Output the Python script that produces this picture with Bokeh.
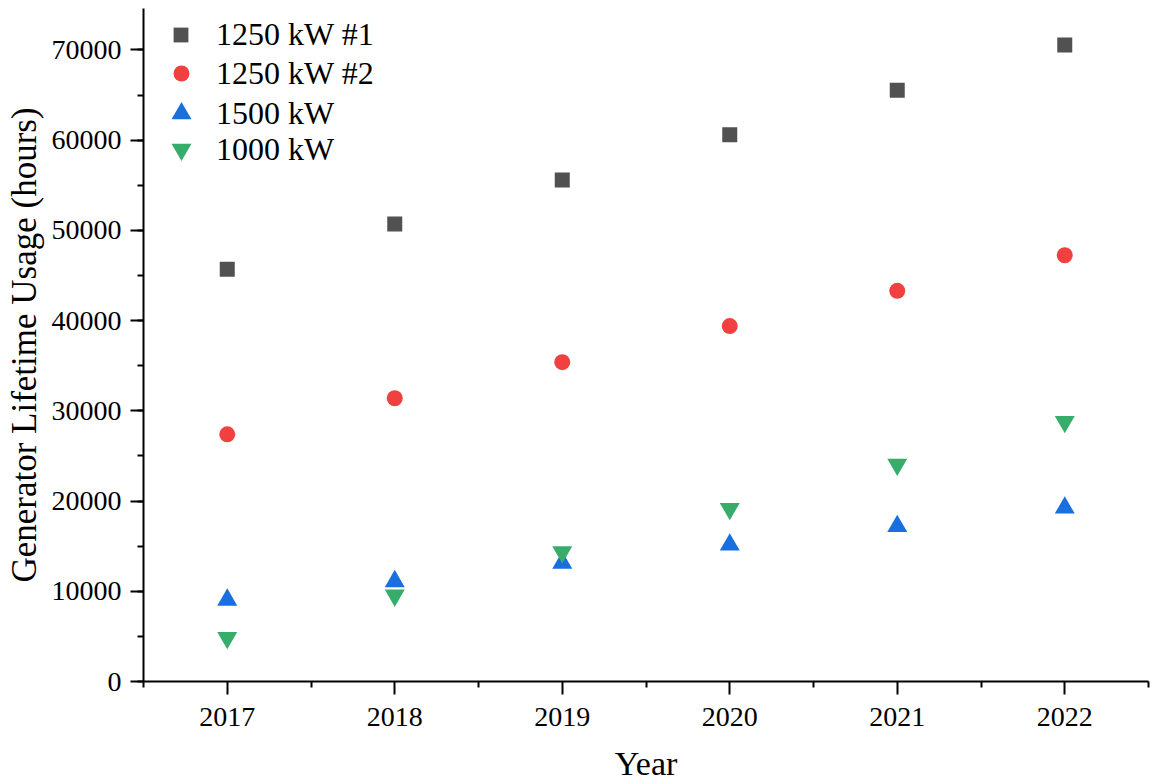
from bokeh.plotting import figure
from bokeh.models import FixedTicker, Legend, LegendItem, Range1d
from bokeh.embed import file_html
from bokeh.resources import INLINE

years = [2017, 2018, 2019, 2020, 2021, 2022]
gen_1250_1 = [45700, 50700, 55600, 60600, 65550, 70550]
gen_1250_2 = [27400, 31400, 35400, 39400, 43300, 47250]
gen_1500 = [9050, 11100, 13150, 15150, 17200, 19250]
gen_1000 = [4850, 9550, 14350, 19150, 24050, 28800]

series = [
    ("1250 kW #1", gen_1250_1, "square", "#515151", 15),
    ("1250 kW #2", gen_1250_2, "circle", "#F14040", 16),
    ("1500 kW", gen_1500, "triangle", "#1A6FDF", 20),
    ("1000 kW", gen_1000, "inverted_triangle", "#37AD6B", 20),
]

FONT = "Liberation Serif"

p = figure(width=1150, height=784, output_backend="svg", toolbar_location=None,
           x_range=Range1d(2016.5, 2022.5), y_range=Range1d(0, 74600),
           min_border_left=143, min_border_right=2, min_border_top=8, min_border_bottom=103)
p.outline_line_color = None
p.xgrid.visible = False
p.ygrid.visible = False

# legend layout: (glyph box size, x offset, label standoff, y offset from frame bottom)
legend_layout = [
    (37, 19, 17, 628),
    (40, 18, 15, 588),
    (50, 13, 10, 543),
    (50, 13, 10, 507),
]

for (name, vals, marker, color, size), (gh, vx, so, vy) in zip(series, legend_layout):
    r = p.scatter(years, vals, marker=marker, size=size, fill_color=color, line_color=color, line_width=0)
    lg = Legend(items=[LegendItem(label=name, renderers=[r])], location=(vx, vy))
    lg.border_line_color = None
    lg.background_fill_alpha = 0
    lg.label_text_font = FONT
    lg.label_text_font_size = "32px"
    lg.label_text_color = "#000000"
    lg.glyph_width = gh
    lg.glyph_height = gh
    lg.margin = 0
    lg.padding = 0
    lg.spacing = 0
    lg.label_standoff = so
    p.add_layout(lg)

p.xaxis.ticker = FixedTicker(ticks=years, minor_ticks=[2016.5 + i for i in range(7)])
p.yaxis.ticker = FixedTicker(ticks=list(range(0, 70001, 10000)), minor_ticks=list(range(0, 75001, 5000)))

for ax in (p.xaxis[0], p.yaxis[0]):
    ax.axis_line_width = 2
    ax.axis_line_color = "black"
    ax.major_tick_line_width = 2
    ax.major_tick_line_color = "black"
    ax.minor_tick_line_width = 2
    ax.minor_tick_line_color = "black"
    ax.major_tick_out = 13
    ax.major_tick_in = 0
    ax.minor_tick_out = 6
    ax.minor_tick_in = 0
    ax.major_label_text_font = FONT
    ax.major_label_text_font_size = "28px"
    ax.major_label_text_color = "black"
    ax.axis_label_text_font = FONT
    ax.axis_label_text_font_size = "35px"
    ax.axis_label_text_font_style = "normal"
    ax.axis_label_text_color = "black"

p.xaxis.axis_label = "Year"
p.xaxis.axis_label_text_font_size = "34px"
p.yaxis.axis_label = "Generator Lifetime Usage (hours)"
p.xaxis.major_label_standoff = 13
p.yaxis.major_label_standoff = 9
p.xaxis.axis_label_standoff = 16
p.yaxis.axis_label_standoff = 5

open("out.html", "w").write(file_html(p, INLINE))
